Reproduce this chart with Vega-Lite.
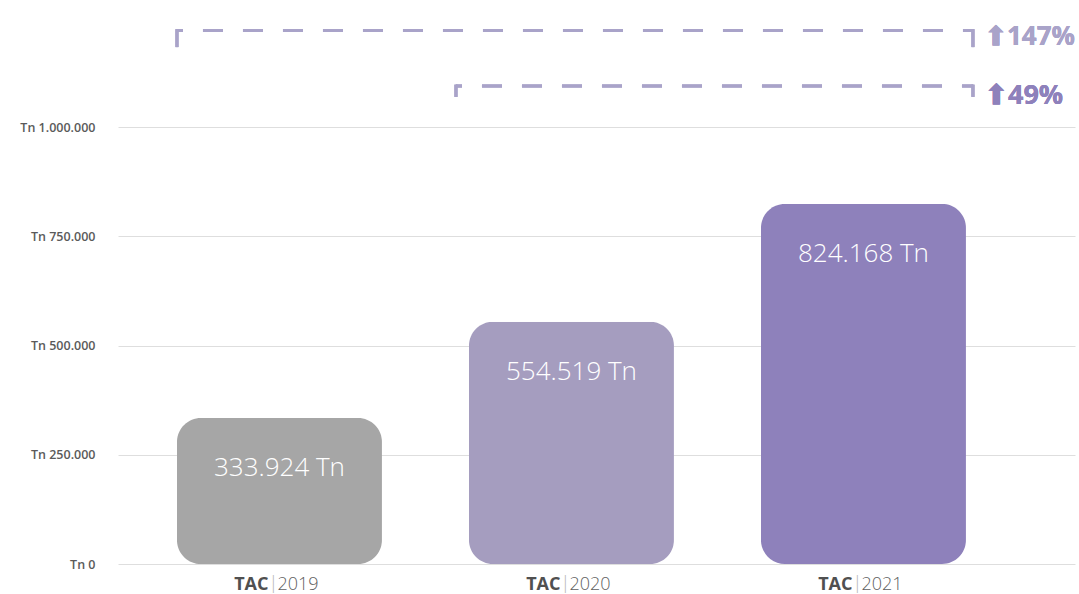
{
  "$schema": "https://vega.github.io/schema/vega-lite/v6.json",
  "width": 957,
  "height": 544,
  "autosize": {"type": "none"},
  "padding": {"left": 118, "top": 20, "right": 4, "bottom": 30},
  "background": "white",
  "config": {"view": {"stroke": null}, "font": "Open Sans"},
  "data": {
    "values": [
      {"year": "2019", "tag": "TAC", "value": 333924, "text": "333.924 Tn"},
      {"year": "2020", "tag": "TAC", "value": 554519, "text": "554.519 Tn"},
      {"year": "2021", "tag": "TAC", "value": 824168, "text": "824.168 Tn"}
    ]
  },
  "encoding": {
    "x": {
      "field": "year",
      "type": "nominal",
      "scale": {"domain": ["2019", "2020", "2021"], "paddingInner": 0.298, "paddingOuter": 0.2877, "align": 0.351},
      "axis": null
    }
  },
  "layer": [
    {
      "mark": {"type": "bar", "cornerRadius": 24},
      "encoding": {
        "y": {
          "field": "value",
          "type": "quantitative",
          "scale": {"domain": [0, 1245000], "nice": false, "zero": true},
          "axis": {
            "values": [0, 250000, 500000, 750000, 1000000],
            "labelExpr": "datum.value == 0 ? 'Tn 0' : (datum.value == 1000000 ? 'Tn 1.000.000' : 'Tn ' + format(datum.value / 1000, 'd') + '.000')",
            "domain": false,
            "ticks": false,
            "grid": true,
            "gridColor": "#dedede",
            "gridWidth": 1,
            "labelPadding": 23,
            "labelFontSize": 12.5,
            "labelFontWeight": 600,
            "labelColor": "#5a5a5a",
            "title": null
          }
        },
        "color": {
          "field": "year",
          "type": "nominal",
          "scale": {"domain": ["2019", "2020", "2021"], "range": ["#a6a6a6", "#a59dbf", "#8e81bb"]},
          "legend": null
        }
      }
    },
    {
      "mark": {"type": "text", "color": "white", "fontSize": 26, "fontWeight": 300, "baseline": "middle", "dy": 50},
      "encoding": {
        "y": {"field": "value", "type": "quantitative"},
        "text": {"field": "text"}
      }
    },
    {
      "mark": {"type": "text", "color": "#505050", "fontSize": 18, "fontWeight": "bold", "align": "right", "baseline": "middle", "dy": 21, "dx": -11},
      "encoding": {
        "y": {"datum": 0, "type": "quantitative"},
        "text": {"field": "tag"}
      }
    },
    {
      "mark": {"type": "text", "color": "#b5b5b5", "fontSize": 18, "fontWeight": 300, "align": "center", "baseline": "middle", "dy": 20, "dx": -6},
      "encoding": {
        "y": {"datum": 0, "type": "quantitative"},
        "text": {"value": "|"}
      }
    },
    {
      "mark": {"type": "text", "color": "#5f5f5f", "fontSize": 18, "fontWeight": 300, "align": "left", "baseline": "middle", "dy": 21, "dx": -2},
      "encoding": {
        "y": {"datum": 0, "type": "quantitative"},
        "text": {"field": "year"}
      }
    },
    {
      "mark": {"type": "rule", "color": "#a9a3c9", "strokeWidth": 3, "strokeDash": [20, 20], "strokeDashOffset": 14, "x2Offset": 7},
      "encoding": {
        "x": {"datum": "2019", "bandPosition": 0},
        "x2": {"datum": "2021", "bandPosition": 1},
        "y": {"datum": 1221000, "type": "quantitative"}
      }
    },
    {
      "mark": {"type": "rule", "color": "#a9a3c9", "strokeWidth": 3},
      "encoding": {
        "x": {"datum": "2019", "bandPosition": 0},
        "y": {"datum": 1224000, "type": "quantitative"},
        "y2": {"datum": 1183000}
      }
    },
    {
      "mark": {"type": "rule", "color": "#a9a3c9", "strokeWidth": 3, "xOffset": 7},
      "encoding": {
        "x": {"datum": "2021", "bandPosition": 1},
        "y": {"datum": 1224000, "type": "quantitative"},
        "y2": {"datum": 1183000}
      }
    },
    {
      "mark": {"type": "rule", "color": "#a9a3c9", "strokeWidth": 3, "strokeDash": [20, 20], "strokeDashOffset": 14, "xOffset": -13, "x2Offset": 7},
      "encoding": {
        "x": {"datum": "2020", "bandPosition": 0},
        "x2": {"datum": "2021", "bandPosition": 1},
        "y": {"datum": 1094000, "type": "quantitative"}
      }
    },
    {
      "mark": {"type": "rule", "color": "#a9a3c9", "strokeWidth": 3, "xOffset": -13},
      "encoding": {
        "x": {"datum": "2020", "bandPosition": 0},
        "y": {"datum": 1097000, "type": "quantitative"},
        "y2": {"datum": 1069000}
      }
    },
    {
      "mark": {"type": "rule", "color": "#a9a3c9", "strokeWidth": 3, "xOffset": 7},
      "encoding": {
        "x": {"datum": "2021", "bandPosition": 1},
        "y": {"datum": 1097000, "type": "quantitative"},
        "y2": {"datum": 1069000}
      }
    },
    {
      "mark": {"type": "text", "color": "#a9a3c9", "fontSize": 26, "fontWeight": "bold", "align": "left", "baseline": "middle", "dx": 19},
      "encoding": {
        "x": {"datum": "2021", "bandPosition": 1},
        "y": {"datum": 1207000, "type": "quantitative"},
        "text": {"value": "⬆147%"}
      }
    },
    {
      "mark": {"type": "text", "color": "#8e81bb", "fontSize": 27, "fontWeight": "bold", "align": "left", "baseline": "middle", "dx": 19},
      "encoding": {
        "x": {"datum": "2021", "bandPosition": 1},
        "y": {"datum": 1072000, "type": "quantitative"},
        "text": {"value": "⬆49%"}
      }
    }
  ]
}
